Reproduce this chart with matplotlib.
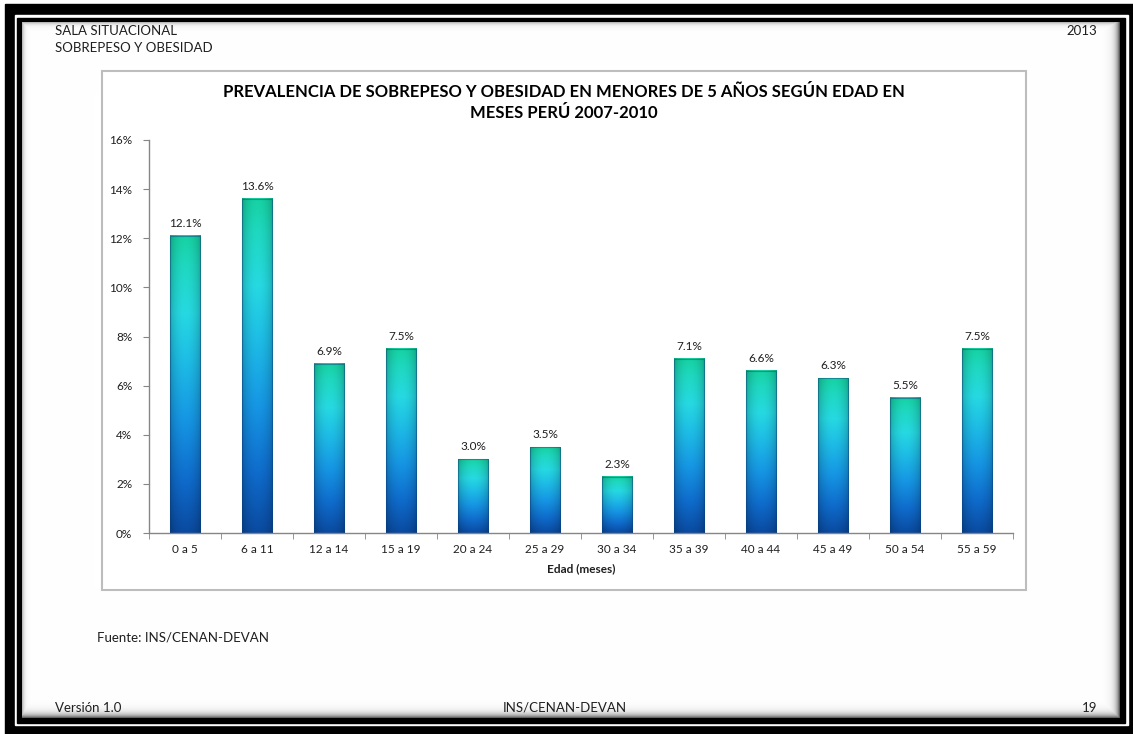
import numpy as np
import matplotlib
matplotlib.use('Agg')
import matplotlib.pyplot as plt
from matplotlib.colors import LinearSegmentedColormap
from matplotlib.patches import Rectangle

plt.rcParams['font.family'] = ['Lato', 'DejaVu Sans']

# ---- data ----
edades = ['0 a 5', '6 a 11', '12 a 14', '15 a 19', '20 a 24', '25 a 29',
          '30 a 34', '35 a 39', '40 a 44', '45 a 49', '50 a 54', '55 a 59']
prevalencia = [12.1, 13.6, 6.9, 7.5, 3.0, 3.5, 2.3, 7.1, 6.6, 6.3, 5.5, 7.5]
yticks = [0, 2, 4, 6, 8, 10, 12, 14, 16]

W, H = 1133, 734
fig = plt.figure(figsize=(W / 100, H / 100), dpi=100)
fig.patch.set_facecolor('white')

# ---- page frame (pixel coordinates) ----
page = fig.add_axes([0, 0, 1, 1])
page.set_xlim(0, W)
page.set_ylim(H, 0)
page.axis('off')

page.add_patch(Rectangle((5, 4), W, H, color='black', zorder=0))
page.add_patch(Rectangle((15, 15), 1128 - 15, 725 - 15, color='white', zorder=1))
page.add_patch(Rectangle((17, 18), 1125 - 17, 723 - 18, color='black', zorder=2))

# inner drop shadow along the frame
x0, x1, y0, y1 = 22, 1120, 22, 718
xx, yy = np.meshgrid(np.arange(x0, x1) + 0.5, np.arange(y0, y1) + 0.5)
shade = np.maximum.reduce([
    0.75 * np.exp(-(x1 - xx) / 3.5),
    0.70 * np.exp(-(y1 - yy) / 3.5),
    0.35 * np.exp(-(xx - x0) / 2.0),
    0.35 * np.exp(-(yy - y0) / 2.0),
])
shadow = np.ones((y1 - y0, x1 - x0, 3)) * (1 - shade)[..., None]
page.imshow(shadow, extent=[x0, x1, y1, y0], interpolation='bilinear', zorder=3)
page.set_xlim(0, W)
page.set_ylim(H, 0)

txt = '#1f1f1f'
page.text(55, 31, 'SALA SITUACIONAL', fontsize=9.5, color=txt, va='center', zorder=5)
page.text(55, 48, 'SOBREPESO Y OBESIDAD', fontsize=9.5, color=txt, va='center', zorder=5)
page.text(1097, 31, '2013', fontsize=9.5, color=txt, va='center', ha='right', zorder=5)
page.text(97, 638, 'Fuente: INS/CENAN-DEVAN', fontsize=9.5, color=txt, va='center', zorder=5)
page.text(55, 708, 'Versión 1.0', fontsize=9.5, color=txt, va='center', zorder=5)
page.text(565, 708, 'INS/CENAN-DEVAN', fontsize=9.5, color=txt, va='center', ha='center', zorder=5)
page.text(1097, 708, '19', fontsize=9.5, color=txt, va='center', ha='right', zorder=5)

# chart box
page.add_patch(Rectangle((102, 71), 1026 - 102, 590 - 71, facecolor='white',
                         edgecolor='#bdbdbd', lw=1.5, zorder=4))
page.text(564, 92, 'PREVALENCIA DE SOBREPESO Y OBESIDAD EN MENORES DE 5 AÑOS SEGÚN EDAD EN',
          fontsize=12, fontweight='bold', color='black', ha='center', va='center', zorder=5)
page.text(564, 113, 'MESES PERÚ 2007-2010',
          fontsize=12, fontweight='bold', color='black', ha='center', va='center', zorder=5)

# ---- bar chart ----
ax = fig.add_axes([149 / W, 1 - 533 / H, (1013 - 149) / W, (533 - 140) / H])
ax.set_facecolor('none')

bar_cmap = LinearSegmentedColormap.from_list('barra', [
    (0.00, '#0a4aa0'),
    (0.18, '#0f6ccc'),
    (0.38, '#1696e4'),
    (0.58, '#1ebde6'),
    (0.74, '#26d9e2'),
    (0.90, '#1fd8c0'),
    (1.00, '#16d2a2'),
])
u = np.linspace(0, 1, 40)
side = 0.76 + 0.24 * np.sin(np.pi * u) ** 0.6
grad = bar_cmap(np.linspace(0, 1, 256))[:, None, :3] * side[None, :, None]
grad = np.clip(grad, 0, 1)

bw = 0.42
x = np.arange(len(edades))
for xi, v in zip(x, prevalencia):
    ax.imshow(grad, extent=[xi - bw / 2, xi + bw / 2, 0, v], origin='lower',
              aspect='auto', interpolation='bilinear', zorder=2)
    ax.annotate(f'{v:.1f}%', (xi, v), xytext=(0, 5), textcoords='offset points',
                ha='center', va='bottom', fontsize=8.5, color=txt)
ax.bar(x, prevalencia, width=bw, facecolor='none',
       edgecolor=(0.04, 0.25, 0.5, 0.45), lw=0.8, zorder=3)

ax.set_xlim(-0.5, len(edades) - 0.5)
ax.set_ylim(0, 16)
ax.set_yticks(yticks)
ax.set_yticklabels([f'{t}%' for t in yticks], fontsize=8.5, color=txt)
ax.set_xticks(x)
ax.set_xticklabels(edades, fontsize=8.5, color=txt)
ax.set_xticks(np.arange(-0.5, len(edades)), minor=True)
ax.tick_params(axis='x', which='major', length=0, pad=8)
ax.tick_params(axis='x', which='minor', length=4, color='#868686', direction='out')
ax.tick_params(axis='y', length=4, color='#868686', direction='out', pad=8)
for s in ['top', 'right']:
    ax.spines[s].set_visible(False)
for s in ['left', 'bottom']:
    ax.spines[s].set_color('#868686')
    ax.spines[s].set_linewidth(1)
ax.set_xlabel('Edad (meses)', fontsize=8.5, fontweight='bold', color=txt, labelpad=6)

fig.savefig('out.png', dpi=100)
